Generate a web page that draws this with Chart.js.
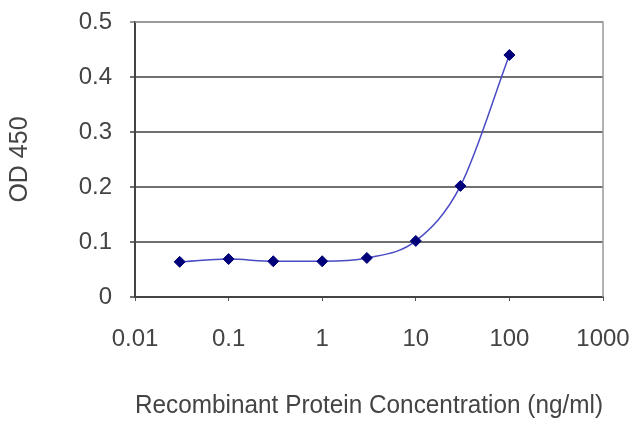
<!DOCTYPE html>
<html>
<head>
<meta charset="utf-8">
<script src="https://cdn.jsdelivr.net/npm/chart.js@4"></script>
<style>
  html, body { margin: 0; padding: 0; background: #fff; }
  #wrap { width: 640px; height: 427px; }
</style>
</head>
<body>
<div id="wrap"><canvas id="odChart" width="640" height="427"></canvas></div>
<script>
// concentration (ng/ml) and measured OD 450
const concentrations = [0.03, 0.1, 0.3, 1, 3, 10, 30, 100];
const odValues = [0.064, 0.069, 0.065, 0.065, 0.071, 0.102, 0.202, 0.44];
const xTickValues = [0.01, 0.1, 1, 10, 100, 1000];
const yTickValues = [0, 0.1, 0.2, 0.3, 0.4, 0.5];

const points = concentrations.map((c, i) => ({ x: c, y: odValues[i] }));

// grey frame on the top and right of the plot area
const framePlugin = {
    id: "frame",
    beforeDatasetsDraw(chart) {
        const { ctx, chartArea } = chart;
        ctx.save();
        ctx.strokeStyle = "#9a9a9a";
        ctx.lineWidth = 1.5;
        ctx.beginPath();
        ctx.moveTo(chartArea.left, chartArea.top);
        ctx.lineTo(chartArea.right, chartArea.top);
        ctx.lineTo(chartArea.right, chartArea.bottom);
        ctx.stroke();
        ctx.restore();
    }
};

const ctx = document.getElementById("odChart").getContext("2d");
new Chart(ctx, {
    type: "scatter",
    data: {
        datasets: [{
            data: points,
            showLine: true,
            borderColor: "#4a4ac4",
            borderWidth: 1.5,
            cubicInterpolationMode: "monotone",
            pointStyle: "rectRot",
            pointRadius: 5.5,
            pointBackgroundColor: "#00007a",
            pointBorderColor: "#00007a",
            pointBorderWidth: 1
        }]
    },
    options: {
        responsive: false,
        animation: false,
        layout: { padding: { top: 22, right: 37, left: 0, bottom: 0 } },
        plugins: {
            legend: { display: false },
            tooltip: { enabled: false }
        },
        scales: {
            x: {
                type: "logarithmic",
                min: 0.01,
                max: 1000,
                afterBuildTicks: function (scale) {
                    scale.ticks = xTickValues.map(v => ({ value: v }));
                },
                afterFit: function (scale) {
                    scale.height = 130;
                    scale.paddingLeft = 0;
                    scale.paddingRight = 0;
                },
                grid: {
                    drawOnChartArea: false,
                    drawTicks: true,
                    tickLength: 4,
                    color: "#555"
                },
                border: { color: "#444", width: 2 },
                ticks: {
                    padding: 24,
                    color: "#444",
                    maxRotation: 0,
                    font: { family: "Liberation Sans", size: 24 },
                    callback: function (value) { return String(value); }
                },
                title: {
                    display: true,
                    text: "Recombinant Protein Concentration (ng/ml)",
                    color: "#444",
                    font: { family: "Liberation Sans", size: 26 },
                    padding: { top: 0, bottom: 6 }
                }
            },
            y: {
                min: 0,
                max: 0.5,
                afterBuildTicks: function (scale) {
                    scale.ticks = yTickValues.map(v => ({ value: v }));
                },
                afterFit: function (scale) {
                    scale.width = 135;
                    scale.paddingTop = 0;
                    scale.paddingBottom = 0;
                },
                grid: {
                    color: function (c) { return c.tick && c.tick.value === 0.5 ? "#9a9a9a" : "#707070"; },
                    lineWidth: 2,
                    drawTicks: true,
                    tickLength: 5
                },
                border: { color: "#444", width: 2 },
                ticks: {
                    padding: 18,
                    color: "#444",
                    font: { family: "Liberation Sans", size: 24 },
                    callback: function (value) { return String(+value.toFixed(1)); }
                },
                title: {
                    display: true,
                    text: "OD 450",
                    color: "#444",
                    font: { family: "Liberation Sans", size: 25 },
                    padding: { top: 5, bottom: 0 }
                }
            }
        }
    },
    plugins: [framePlugin]
});
</script>
</body>
</html>
